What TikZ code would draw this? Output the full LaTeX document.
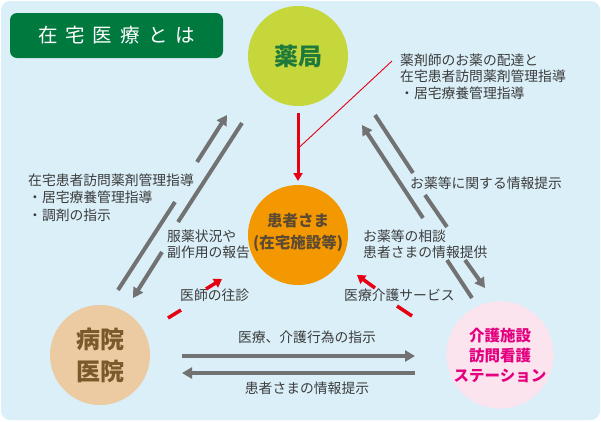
\documentclass[tikz,border=0pt]{standalone}
\usepackage{fontspec}
\newfontfamily\jp{Noto Sans CJK JP}
\usetikzlibrary{arrows.meta}
\definecolor{bgc}{HTML}{DAEFF8}
\definecolor{ttlc}{HTML}{00793F}
\definecolor{phc}{HTML}{C6D73C}
\definecolor{phtx}{HTML}{1D7A3B}
\definecolor{ptc}{HTML}{F39800}
\definecolor{pttx}{HTML}{5C4A32}
\definecolor{hosc}{HTML}{ECCAA2}
\definecolor{hostx}{HTML}{7A5A2A}
\definecolor{carec}{HTML}{FBE4EE}
\definecolor{caretx}{HTML}{E4007F}
\definecolor{garc}{HTML}{727272}
\definecolor{redc}{HTML}{E60012}
\definecolor{txtc}{HTML}{3C3C3C}
\begin{document}
\begin{tikzpicture}[x=1pt,y=-1pt,
  lbl/.style={font=\jp\fontsize{13.8}{16.5}\selectfont, text=txtc, inner sep=0pt, align=left},
  garrow/.style={draw=garc, line width=4pt, -{Triangle[length=10pt,width=11pt]}},
  gline/.style={draw=garc, line width=4pt},
  rarrow/.style={draw=redc, line width=3.5pt, -{Triangle[length=8pt,width=10pt]}},
  rline/.style={draw=redc, line width=3.5pt},
  circ/.style={circle, minimum size=100pt, inner sep=0pt, align=center}
]
\useasboundingbox (0,0) rectangle (601,421);
\fill[bgc, rounded corners=9pt] (1,1) rectangle (600,420);

% title
\node[fill=ttlc, rounded corners=7pt, minimum width=213pt, minimum height=45pt, inner sep=0pt,
      text=white, font=\jp\fontsize{19.5}{22}\selectfont] (title) at (116.5,35.5)
  {在\hspace{8pt}宅\hspace{8pt}医\hspace{8pt}療\hspace{8pt}と\hspace{8pt}は};

% circles
\node[circ, fill=phc, text=phtx, font=\jp\bfseries\fontsize{24}{28}\selectfont] (ph) at (298,56) {薬局};
\node[circ, fill=ptc] (pt) at (298,235) {};
\node[inner sep=0pt, align=center, text=pttx, font=\jp\bfseries\fontsize{15.5}{22}\selectfont] (ptt) at (298,232) {患者さま\\(在宅施設等)};
\node[circ, fill=hosc, text=hostx, font=\jp\bfseries\fontsize{24}{32}\selectfont] (hos) at (100,355) {病院\\医院};
\node[circ, fill=carec, text=caretx, font=\jp\bfseries\fontsize{15.5}{20}\selectfont] (care) at (500,355) {介護施設\\訪問看護\\ステーション};

% labels
\node[lbl, anchor=west] (t1) at (400,76.5) {薬剤師のお薬の配達と\\在宅患者訪問薬剤管理指導\\・居宅療養管理指導};
\node[lbl, anchor=west, font=\jp\fontsize{13.8}{17.5}\selectfont] (t2) at (28,197.5) {在宅患者訪問薬剤管理指導\\・居宅療養管理指導\\・調剤の指示};
\node[lbl, anchor=west, font=\jp\fontsize{13.8}{16}\selectfont] (t3) at (167,244) {服薬状況や\\副作用の報告};
\node[lbl, anchor=west, font=\jp\fontsize{13.8}{16}\selectfont] (t4) at (363,244) {お薬等の相談\\患者さまの情報提供};
\node[lbl, anchor=west] (t5) at (410,183) {お薬等に関する情報提示};
\node[lbl, anchor=west] (t6) at (180,295) {医師の往診};
\node[lbl, anchor=west] (t7) at (344,295) {医療介護サービス};
\node[lbl] (t8) at (307,337) {医療、介護行為の指示};
\node[lbl] (t9) at (307,388) {患者さまの情報提示};

% coordinates for connectors
\coordinate (a1) at (118,290); \coordinate (a2) at (175,202);
\coordinate (a3) at (197,162); \coordinate (a4) at (227,115);
\coordinate (b1) at (242,123); \coordinate (b2) at (178,222);
\coordinate (b3) at (162,252); \coordinate (b4) at (133,298);
\coordinate (c1) at (472,298); \coordinate (c2) at (447,260);
\coordinate (c3) at (423,218); \coordinate (c4) at (362,125);
\coordinate (d1) at (375,115); \coordinate (d2) at (413,173);
\coordinate (d3) at (425,195); \coordinate (d4) at (447,227);
\coordinate (d5) at (465,260); \coordinate (d6) at (485,288);
\coordinate (h1) at (182,356); \coordinate (h2) at (415,356);
\coordinate (k1) at (415,373); \coordinate (k2) at (182,373);
\coordinate (r1) at (298,113); \coordinate (r2) at (298,181);
\coordinate (rc) at (298.5,148); \coordinate (rt) at (392,61);
\coordinate (m1) at (168,318); \coordinate (m2) at (181,310);
\coordinate (m3) at (206,289); \coordinate (m4) at (222,279);
\coordinate (n1) at (412,316); \coordinate (n2) at (397,306);
\coordinate (n3) at (375,288); \coordinate (n4) at (357,275);

% gray connectors
\draw[gline] (a1) -- (a2); \draw[garrow] (a3) -- (a4);
\draw[gline] (b1) -- (b2); \draw[garrow] (b3) -- (b4);
\draw[gline] (c1) -- (c2); \draw[garrow] (c3) -- (c4);
\draw[gline] (d1) -- (d2); \draw[gline] (d3) -- (d4); \draw[garrow] (d5) -- (d6);
\draw[garrow] (h1) -- (h2);
\draw[garrow] (k1) -- (k2);

% red connectors
\draw[redc, line width=3pt, -{Triangle[length=8pt,width=9pt]}] (r1) -- (r2);
\draw[redc, line width=0.9pt] (rt) -- (rc);
\draw[rline] (m1) -- (m2); \draw[rarrow] (m3) -- (m4);
\draw[rline] (n1) -- (n2); \draw[rarrow] (n3) -- (n4);
\end{tikzpicture}
\end{document}
